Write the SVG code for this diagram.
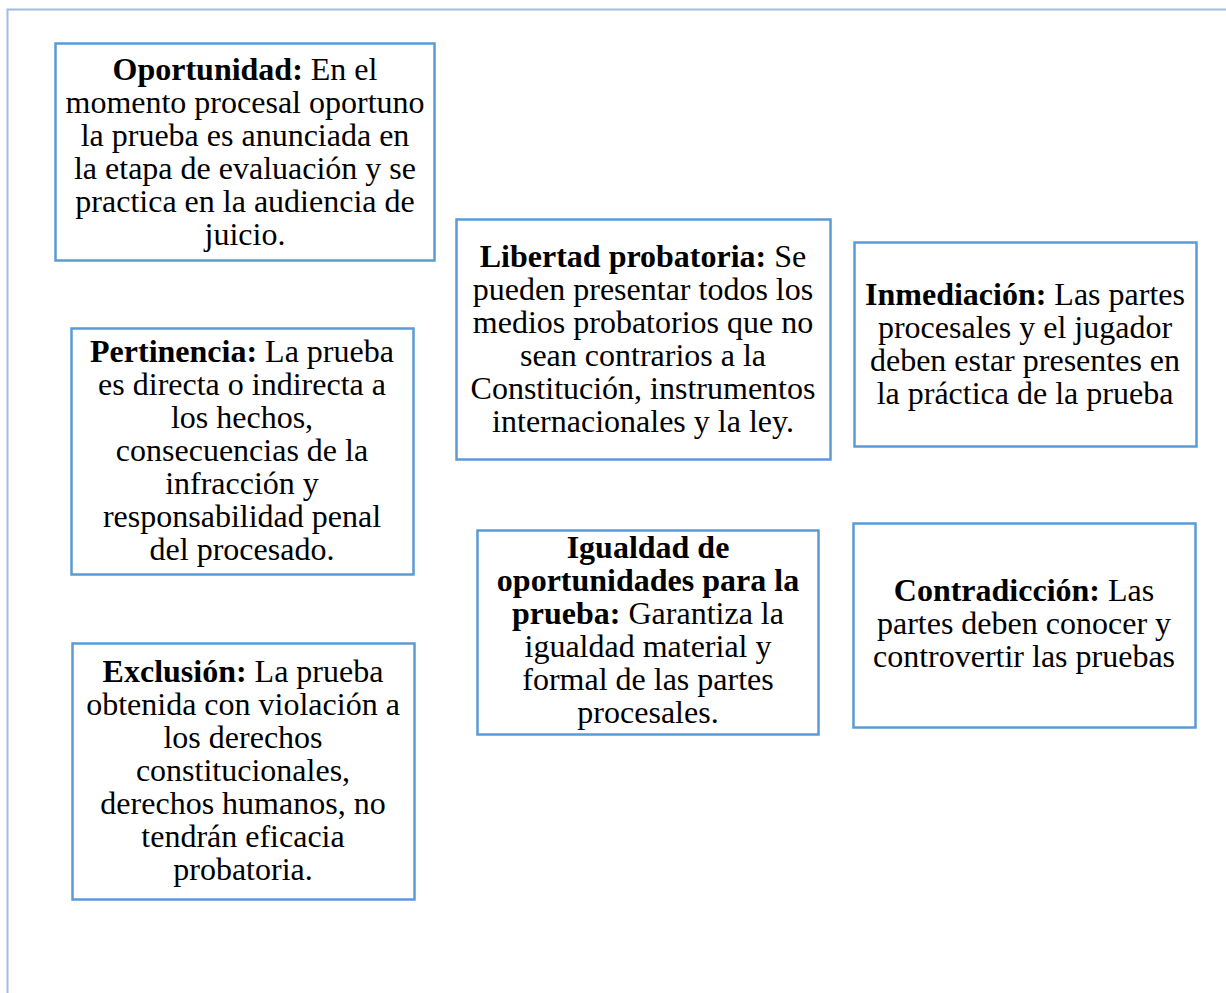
<svg xmlns="http://www.w3.org/2000/svg" width="1226" height="993" viewBox="0 0 1226 993">
<style>
.frame{fill:none;stroke:#9fbce6;stroke-width:2}
.box{fill:#fff;stroke:#5b9bd5;stroke-width:2.5}
text{font-family:"Liberation Serif","Times New Roman",serif;font-size:32px;fill:#000;text-anchor:middle}
.b{font-weight:bold}
</style>
<rect width="1226" height="993" fill="#fff"/>
<path class="frame" d="M7.5,1000 V9.5 H1240"/>
<g id="connectors"/>
<g id="oportunidad">
<rect class="box" x="55.5" y="43.5" width="379" height="217"/>
<text x="245" y="80"><tspan class="b">Oportunidad:</tspan> En el</text>
<text x="245" y="113">momento procesal oportuno</text>
<text x="245" y="146">la prueba es anunciada en</text>
<text x="245" y="179">la etapa de evaluación y se</text>
<text x="245" y="212">practica en la audiencia de</text>
<text x="245" y="245">juicio.</text>
</g>
<g id="pertinencia">
<rect class="box" x="71.5" y="328.5" width="342" height="246"/>
<text x="242" y="362"><tspan class="b">Pertinencia:</tspan> La prueba</text>
<text x="242" y="395">es directa o indirecta a</text>
<text x="242" y="428">los hechos,</text>
<text x="242" y="461">consecuencias de la</text>
<text x="242" y="494">infracción y</text>
<text x="242" y="527">responsabilidad penal</text>
<text x="242" y="560">del procesado.</text>
</g>
<g id="exclusion">
<rect class="box" x="72.5" y="643.5" width="342" height="256"/>
<text x="243" y="682"><tspan class="b">Exclusión:</tspan> La prueba</text>
<text x="243" y="715">obtenida con violación a</text>
<text x="243" y="748">los derechos</text>
<text x="243" y="781">constitucionales,</text>
<text x="243" y="814">derechos humanos, no</text>
<text x="243" y="847">tendrán eficacia</text>
<text x="243" y="880">probatoria.</text>
</g>
<g id="libertad">
<rect class="box" x="456.5" y="219.5" width="374" height="240"/>
<text x="643" y="267"><tspan class="b">Libertad probatoria:</tspan> Se</text>
<text x="643" y="300">pueden presentar todos los</text>
<text x="643" y="333">medios probatorios que no</text>
<text x="643" y="366">sean contrarios a la</text>
<text x="643" y="399">Constitución, instrumentos</text>
<text x="643" y="432">internacionales y la ley.</text>
</g>
<g id="igualdad">
<rect class="box" x="477.5" y="530.5" width="341" height="204"/>
<text x="648" y="558" class="b">Igualdad de</text>
<text x="648" y="591" class="b">oportunidades para la</text>
<text x="648" y="624"><tspan class="b">prueba:</tspan> Garantiza la</text>
<text x="648" y="657">igualdad material y</text>
<text x="648" y="690">formal de las partes</text>
<text x="648" y="723">procesales.</text>
</g>
<g id="inmediacion">
<rect class="box" x="854.5" y="242.5" width="342" height="204"/>
<text x="1025" y="305"><tspan class="b">Inmediación:</tspan> Las partes</text>
<text x="1025" y="338">procesales y el jugador</text>
<text x="1025" y="371">deben estar presentes en</text>
<text x="1025" y="404">la práctica de la prueba</text>
</g>
<g id="contradiccion">
<rect class="box" x="853.5" y="523.5" width="342" height="204"/>
<text x="1024" y="601"><tspan class="b">Contradicción:</tspan> Las</text>
<text x="1024" y="634">partes deben conocer y</text>
<text x="1024" y="667">controvertir las pruebas</text>
</g>
</svg>
